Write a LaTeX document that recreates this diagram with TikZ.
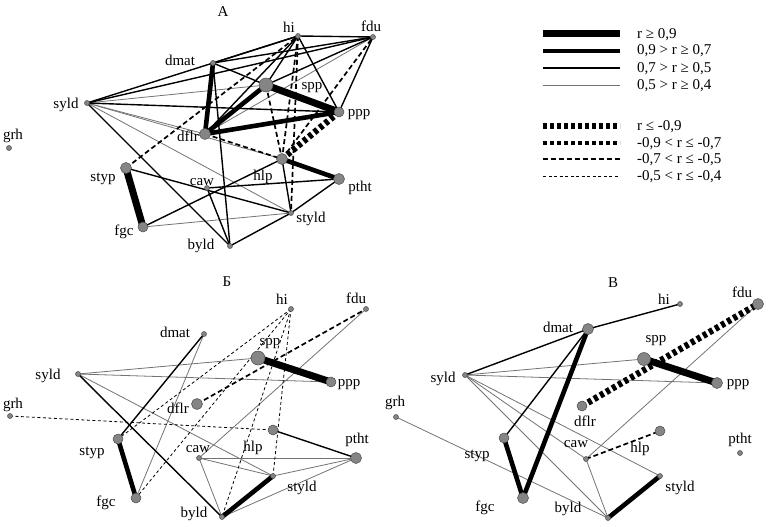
\documentclass[tikz,border=0pt]{standalone}
\usepackage{fontspec}
\setmainfont{Liberation Serif}
\pgfdeclarelayer{edges}
\pgfsetlayers{edges,main}
\tikzset{
  vtx/.style={circle, fill=black!48, draw=black!70, line width=0.5pt, inner sep=0pt},
  lbl/.style={font=\fontsize{15}{15}\selectfont, anchor=base, inner sep=0pt},
  ttl/.style={font=\fontsize{15}{15}\selectfont, anchor=base, inner sep=0pt},
  leg/.style={font=\fontsize{15}{15}\selectfont, anchor=base west, inner sep=0pt},
  sA/.style={line width=7pt},
  sB/.style={line width=4.6pt},
  sC/.style={line width=1.4pt},
  sD/.style={line width=0.8pt, draw=black!55},
  dA/.style={line width=6.5pt, dash pattern=on 4pt off 3pt},
  dB/.style={line width=4.6pt, dash pattern=on 4pt off 3pt},
  dC/.style={line width=1.7pt, dash pattern=on 5pt off 3pt},
  dD/.style={line width=0.8pt, dash pattern=on 3pt off 2.5pt},
}
\newcommand\Vx[4]{\node[vtx, minimum size=#4pt] (#1) at (#2,#3) {};}
\newcommand\Lb[4]{\node[lbl] (#1) at (#2,#3) {#4};}
\newcommand\Ed[3]{\draw[#1] (#2.center) -- (#3.center);}
\begin{document}
\begin{tikzpicture}[x=1pt,y=-1pt]
\useasboundingbox (0,0) rectangle (768,527);

% ---------------- Panel A ----------------
\node[ttl] (tA) at (223,17) {A};
\Vx{a-hi}{298}{36}{5}   \Lb{la-hi}{289}{33}{hi}
\Vx{a-fdu}{373}{37}{5}  \Lb{la-fdu}{371}{32}{fdu}
\Vx{a-dmat}{213}{63}{5} \Lb{la-dmat}{180}{66}{dmat}
\Vx{a-syld}{87}{103}{5} \Lb{la-syld}{66}{108}{syld}
\Vx{a-spp}{266}{85}{14} \Lb{la-spp}{312}{89}{spp}
\Vx{a-ppp}{339}{112}{10} \Lb{la-ppp}{359}{116}{ppp}
\Vx{a-dflr}{205}{134}{11} \Lb{la-dflr}{188}{141}{dflr}
\Vx{a-grh}{9}{148}{5}   \Lb{la-grh}{13}{139}{grh}
\Vx{a-hlp}{282}{159}{11} \Lb{la-hlp}{263}{180}{hlp}
\Vx{a-styp}{126}{168}{11} \Lb{la-styp}{103}{181}{styp}
\Vx{a-caw}{207}{188}{5} \Lb{la-caw}{202}{185}{caw}
\Vx{a-ptht}{339}{179}{11} \Lb{la-ptht}{360}{191}{ptht}
\Vx{a-styld}{291}{213}{5} \Lb{la-styld}{311}{222}{styld}
\Vx{a-fgc}{143}{227}{10} \Lb{la-fgc}{124}{235}{fgc}
\Vx{a-byld}{230}{246}{5} \Lb{la-byld}{201}{249}{byld}

% ---------------- Panel B ----------------
\node[ttl] (tB) at (227,286) {Б};
\Vx{b-hi}{291}{309}{5}   \Lb{lb-hi}{282}{304}{hi}
\Vx{b-fdu}{366}{309}{5}  \Lb{lb-fdu}{356}{303}{fdu}
\Vx{b-dmat}{204}{334}{5} \Lb{lb-dmat}{175}{337}{dmat}
\Vx{b-spp}{258}{358}{14} \Lb{lb-spp}{270}{345}{spp}
\Vx{b-syld}{78}{374}{5}  \Lb{lb-syld}{48}{379}{syld}
\Vx{b-ppp}{331}{382}{10} \Lb{lb-ppp}{349}{386}{ppp}
\Vx{b-grh}{10}{416}{5}   \Lb{lb-grh}{13}{408}{grh}
\Vx{b-dflr}{197}{404}{11} \Lb{lb-dflr}{178}{413}{dflr}
\Vx{b-hlp}{273}{430}{10} \Lb{lb-hlp}{253}{451}{hlp}
\Vx{b-styp}{118}{439}{10} \Lb{lb-styp}{92}{455}{styp}
\Vx{b-caw}{199}{458}{5}  \Lb{lb-caw}{198}{452}{caw}
\Vx{b-ptht}{356}{458}{11} \Lb{lb-ptht}{357}{443}{ptht}
\Vx{b-styld}{273}{476}{5} \Lb{lb-styld}{302}{491}{styld}
\Vx{b-fgc}{136}{498}{10} \Lb{lb-fgc}{106}{506}{fgc}
\Vx{b-byld}{222}{517}{5} \Lb{lb-byld}{194}{517}{byld}

% ---------------- Panel V ----------------
\node[ttl] (tV) at (613,287) {В};
\Vx{v-hi}{680}{304}{5}   \Lb{lv-hi}{664}{304}{hi}
\Vx{v-fdu}{758}{304}{11} \Lb{lv-fdu}{742}{297}{fdu}
\Vx{v-dmat}{588}{329}{11} \Lb{lv-dmat}{558}{332}{dmat}
\Vx{v-spp}{644}{359}{13} \Lb{lv-spp}{656}{342}{spp}
\Vx{v-syld}{465}{375}{5} \Lb{lv-syld}{443}{382}{syld}
\Vx{v-ppp}{717}{383}{11} \Lb{lv-ppp}{738}{386}{ppp}
\Vx{v-grh}{396}{417}{5}  \Lb{lv-grh}{395}{406}{grh}
\Vx{v-dflr}{582}{406}{10} \Lb{lv-dflr}{585}{426}{dflr}
\Vx{v-hlp}{660}{431}{10} \Lb{lv-hlp}{640}{452}{hlp}
\Vx{v-styp}{504}{438}{10} \Lb{lv-styp}{477}{458}{styp}
\Vx{v-caw}{586}{459}{5}  \Lb{lv-caw}{576}{447}{caw}
\Vx{v-ptht}{740}{453}{5} \Lb{lv-ptht}{740}{443}{ptht}
\Vx{v-styld}{660}{476}{5} \Lb{lv-styld}{680}{491}{styld}
\Vx{v-fgc}{523}{498}{11} \Lb{lv-fgc}{485}{511}{fgc}
\Vx{v-byld}{608}{518}{5} \Lb{lv-byld}{568}{512}{byld}

% ---------------- Legend ----------------
\foreach \i/\y in {1/34,2/51,3/68,4/85,5/126,6/143,7/159,8/176}{
  \coordinate (g\i w) at (543,\y);
  \coordinate (g\i e) at (620,\y);
}
\node[leg] (t1) at (637,38) {r ≥ 0,9};
\node[leg] (t2) at (637,55) {0,9 > r ≥ 0,7};
\node[leg] (t3) at (637,72) {0,7 > r ≥ 0,5};
\node[leg] (t4) at (637,89) {0,5 > r ≥ 0,4};
\node[leg] (t5) at (637,130) {r ≤ -0,9};
\node[leg] (t6) at (637,147) {-0,9 < r ≤ -0,7};
\node[leg] (t7) at (637,163) {-0,7 < r ≤ -0,5};
\node[leg] (t8) at (637,180) {-0,5 < r ≤ -0,4};
\draw[sA] (g1w) -- (g1e);
\draw[sB] (g2w) -- (g2e);
\draw[sC] (g3w) -- (g3e);
\draw[sD] (g4w) -- (g4e);
\draw[dA] (g5w) -- (g5e);
\draw[dB] (g6w) -- (g6e);
\draw[dC] (g7w) -- (g7e);
\draw[dD] (g8w) -- (g8e);

% ---------------- Edges ----------------
\begin{pgfonlayer}{edges}
% Panel A
\Ed{sD}{a-syld}{a-spp}
\Ed{sD}{a-syld}{a-dflr}
\Ed{sD}{a-syld}{a-hlp}
\Ed{sD}{a-syld}{a-styld}
\Ed{sD}{a-fgc}{a-styld}
\Ed{sD}{a-dflr}{a-fdu}
\Ed{sC}{a-hi}{a-fdu}
\Ed{sC}{a-syld}{a-hi}
\Ed{sC}{a-syld}{a-fdu}
\Ed{sC}{a-dmat}{a-hi}
\Ed{sC}{a-dmat}{a-fdu}
\Ed{sC}{a-dmat}{a-spp}
\Ed{sC}{a-dmat}{a-byld}
\Ed{sC}{a-dflr}{a-hi}
\Ed{sC}{a-spp}{a-hi}
\Ed{sC}{a-spp}{a-fdu}
\Ed{sC}{a-hi}{a-ppp}
\Ed{sC}{a-fdu}{a-ppp}
\Ed{sC}{a-syld}{a-ppp}
\Ed{sC}{a-syld}{a-byld}
\Ed{sC}{a-styp}{a-styld}
\Ed{sC}{a-caw}{a-ptht}
\Ed{sC}{a-fgc}{a-hlp}
\Ed{sC}{a-caw}{a-byld}
\Ed{sC}{a-byld}{a-styld}
\Ed{sC}{a-styld}{a-ptht}
\Ed{sC}{a-hlp}{a-styld}
\Ed{dC}{a-dflr}{a-hlp}
\Ed{dC}{a-spp}{a-hlp}
\Ed{dC}{a-styp}{a-hi}
\Ed{dC}{a-hlp}{a-fdu}
\Ed{dC}{a-hi}{a-hlp}
\Ed{dC}{a-hi}{a-styld}
\Ed{dA}{a-ppp}{a-hlp}
\Ed{sB}{a-dflr}{a-spp}
\Ed{sB}{a-dflr}{a-ppp}
\Ed{sB}{a-dmat}{a-dflr}
\Ed{sB}{a-hlp}{a-ptht}
\Ed{sA}{a-spp}{a-ppp}
\Ed{sA}{a-styp}{a-fgc}
% Panel B
\Ed{sD}{b-syld}{b-spp}
\Ed{sD}{b-syld}{b-ppp}
\Ed{sD}{b-syld}{b-styld}
\Ed{sD}{b-dmat}{b-fgc}
\Ed{sD}{b-caw}{b-ptht}
\Ed{sD}{b-caw}{b-styld}
\Ed{sD}{b-caw}{b-byld}
\Ed{sD}{b-styld}{b-ptht}
\Ed{sD}{b-byld}{b-ptht}
\Ed{sD}{b-caw}{b-fdu}
\Ed{dD}{b-grh}{b-hlp}
\Ed{dD}{b-hi}{b-styp}
\Ed{dD}{b-hi}{b-fgc}
\Ed{dD}{b-hi}{b-byld}
\Ed{dD}{b-hi}{b-styld}
\Ed{sC}{b-syld}{b-byld}
\Ed{sC}{b-dmat}{b-styp}
\Ed{sC}{b-hlp}{b-ptht}
\Ed{dC}{b-dflr}{b-fdu}
\Ed{sB}{b-styp}{b-fgc}
\Ed{sB}{b-byld}{b-styld}
\Ed{sA}{b-spp}{b-ppp}
% Panel V
\Ed{sD}{v-syld}{v-spp}
\Ed{sD}{v-syld}{v-ppp}
\Ed{sD}{v-syld}{v-styld}
\Ed{sD}{v-syld}{v-byld}
\Ed{sD}{v-syld}{v-caw}
\Ed{sD}{v-grh}{v-byld}
\Ed{sD}{v-caw}{v-byld}
\Ed{sD}{v-caw}{v-fdu}
\Ed{sC}{v-syld}{v-dmat}
\Ed{sC}{v-dmat}{v-hi}
\Ed{sC}{v-dmat}{v-styp}
\Ed{dC}{v-caw}{v-hlp}
\Ed{dA}{v-dflr}{v-fdu}
\Ed{sB}{v-styp}{v-fgc}
\Ed{sB}{v-byld}{v-styld}
\Ed{sB}{v-dmat}{v-fgc}
\Ed{sA}{v-spp}{v-ppp}
\end{pgfonlayer}
\end{tikzpicture}
\end{document}
